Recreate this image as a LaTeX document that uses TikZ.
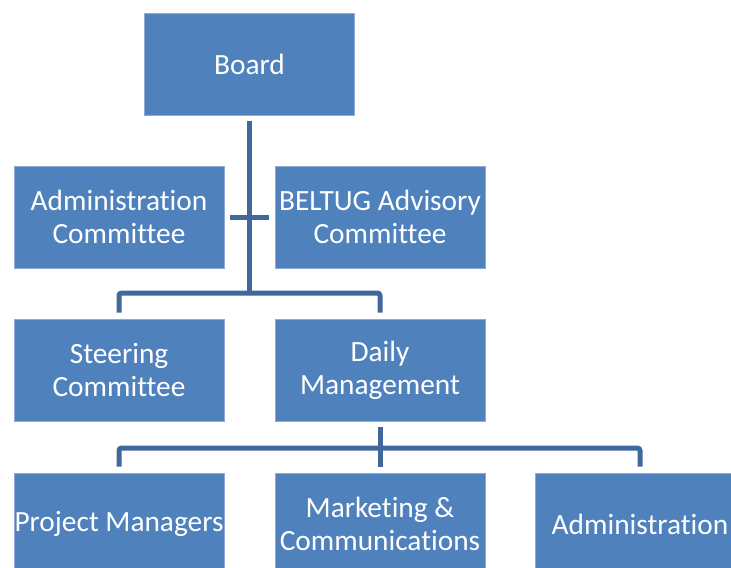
\documentclass[tikz,border=0pt]{standalone}
\usepackage{fontspec}
\setmainfont{Carlito}[Ligatures={NoCommon}]
\usepackage{tikz}
\definecolor{bleu}{HTML}{4F81BD}
\definecolor{bord}{HTML}{8EAADB}
\definecolor{lig}{HTML}{41689A}

\begin{document}
\begin{tikzpicture}
\tikzstyle{trait}=[lig,line width=0.1cm,shorten <=0.12cm,shorten >=0.12cm,rounded corners=1.5pt]
\tikzset{poste/.style={draw=bord,line width=0.4pt,fill=#1,text=white,align=center,
minimum width=4.2cm,minimum height=2.04cm,inner sep=0pt,
font=\fontsize{16.7}{18.6}\selectfont},
poste/.default={bleu}}
\clip (0,0) rectangle (14.62,11.34);
\fill[white] (0,0) rectangle (14.62,11.34);
\node[poste] (B) at (4.99,10.06) {Board};
\node[poste] (B1) at (2.38,7.0) {Administration\\Committee};
\node[poste] (B2) at (7.6,7.0) {BELTUG Advisory\\Committee};
\node[poste] (S) at (2.38,3.94) {Steering\\Committee};
\node[poste] (D) at (7.6,3.94) {Daily\\Management};
\node[poste] (D1) at (2.38,0.86) {Project Managers};
\node[poste] (D2) at (7.6,0.86) {Marketing \&\\Communications};
\node[poste] (D3) at (12.8,0.86) {Administration};
\coordinate (J1) at (4.99,5.48);
\coordinate (J2) at (7.6,2.38);

\draw[trait,shorten >=0pt] (B) -- (J1);
\draw[trait] (B1) -- (B2);
\draw[trait] (S) |- (J1) -| (D);
\draw[trait,shorten >=0pt] (D) -- (J2);
\draw[trait] (D1) |- (J2) -| (D3);
\draw[trait,shorten <=0pt] (J2) -- (D2);

\end{tikzpicture}
\end{document}
